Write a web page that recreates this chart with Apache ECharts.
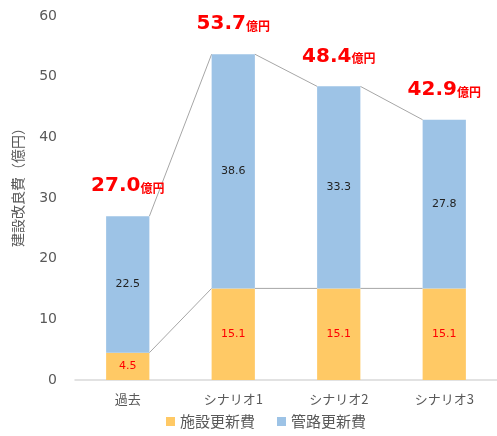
<!DOCTYPE html>
<html><head><meta charset="utf-8">
<script src="https://cdn.jsdelivr.net/npm/echarts@6/dist/echarts.min.js"></script>
<style>html,body{margin:0;padding:0;background:#fff}#c{width:497px;height:436px}</style>
</head><body><div id="c"></div>
<script>
const categories = ['過去', 'シナリオ1', 'シナリオ2', 'シナリオ3'];
const facilityValues = [4.5, 15.1, 15.1, 15.1];
const pipeValues = [22.5, 38.6, 33.3, 27.8];
const totalValues = [27.0, 53.7, 48.4, 42.9];
const seriesNames = ['施設更新費', '管路更新費'];
const yTicks = [0, 10, 20, 30, 40, 50, 60];

const FONT = '"Noto Sans CJK JP", "Noto Sans", sans-serif';
const NUMFONT = '"DejaVu Sans", "Noto Sans CJK JP", sans-serif';
const BAR_RATIO = 0.41;

const connectorData = [];
for (let i = 0; i < categories.length - 1; i++) {
  connectorData.push([i, totalValues[i], totalValues[i + 1], facilityValues[i], facilityValues[i + 1]]);
}

const chart = echarts.init(document.getElementById('c'), null, {renderer: 'canvas'});
chart.setOption({
  animation: false,
  textStyle: {fontFamily: FONT},
  grid: {left: 75, right: 0, top: 16, bottom: 56},
  legend: {
    data: seriesNames,
    left: 164, top: 412, padding: 2,
    itemWidth: 9, itemHeight: 9, itemGap: 22,
    icon: 'rect',
    textStyle: {fontSize: 15, color: '#595959', fontFamily: FONT}
  },
  xAxis: {
    type: 'category', data: categories,
    axisLine: {lineStyle: {color: '#D9D9D9', width: 1.5}},
    axisTick: {show: false},
    axisLabel: {fontSize: 13, color: '#595959', margin: 13, fontFamily: FONT}
  },
  yAxis: {
    type: 'value', min: yTicks[0], max: yTicks[yTicks.length - 1], interval: 10,
    name: '建設改良費（億円）', nameLocation: 'middle', nameGap: 50,
    nameTextStyle: {fontSize: 14, color: '#595959', fontFamily: FONT, padding: [0, 0, 0, 28]},
    axisLine: {show: false}, axisTick: {show: false}, splitLine: {show: false},
    axisLabel: {fontSize: 14, color: '#595959', margin: 18, fontFamily: NUMFONT}
  },
  series: [
    {
      name: seriesNames[0], type: 'bar', stack: 'a', data: facilityValues,
      barWidth: (BAR_RATIO * 100) + '%',
      itemStyle: {color: '#FFC965'},
      label: {show: true, position: 'inside', color: '#FF0000', fontSize: 11, fontFamily: NUMFONT,
        formatter: p => p.value.toFixed(1)}
    },
    {
      name: seriesNames[1], type: 'bar', stack: 'a', data: pipeValues,
      barWidth: (BAR_RATIO * 100) + '%',
      itemStyle: {color: '#9DC3E6'},
      label: {show: true, position: 'inside', color: '#222', fontSize: 11, fontFamily: NUMFONT,
        formatter: p => p.value.toFixed(1)}
    },
    {
      name: 'total', type: 'bar', stack: 'a', data: totalValues.map(() => 0),
      barWidth: (BAR_RATIO * 100) + '%',
      itemStyle: {color: 'transparent'},
      label: {show: true, position: 'top', distance: 20,
        formatter: p => '{a|' + totalValues[p.dataIndex].toFixed(1) + '}{b|億円}',
        rich: {
          a: {fontSize: 20, fontWeight: 'bold', color: '#FF0000', fontFamily: NUMFONT},
          b: {fontSize: 12, fontWeight: 'bold', color: '#FF0000', fontFamily: FONT, padding: [5, 0, 0, 0]}
        }
      }
    },
    {
      name: 'connectors', type: 'custom', data: connectorData, z: 1,
      renderItem: function (params, api) {
        const i = api.value(0);
        const band = api.size([1, 0])[0];
        const half = band * BAR_RATIO / 2;
        const a1 = api.coord([i, api.value(1)]);
        const a2 = api.coord([i + 1, api.value(2)]);
        const b1 = api.coord([i, api.value(3)]);
        const b2 = api.coord([i + 1, api.value(4)]);
        const style = {stroke: '#A6A6A6', lineWidth: 1, fill: null};
        return {type: 'group', children: [
          {type: 'line', shape: {x1: a1[0] + half, y1: a1[1], x2: a2[0] - half, y2: a2[1]}, style: style},
          {type: 'line', shape: {x1: b1[0] + half, y1: b1[1], x2: b2[0] - half, y2: b2[1]}, style: style}
        ]};
      }
    }
  ]
});
</script></body></html>
